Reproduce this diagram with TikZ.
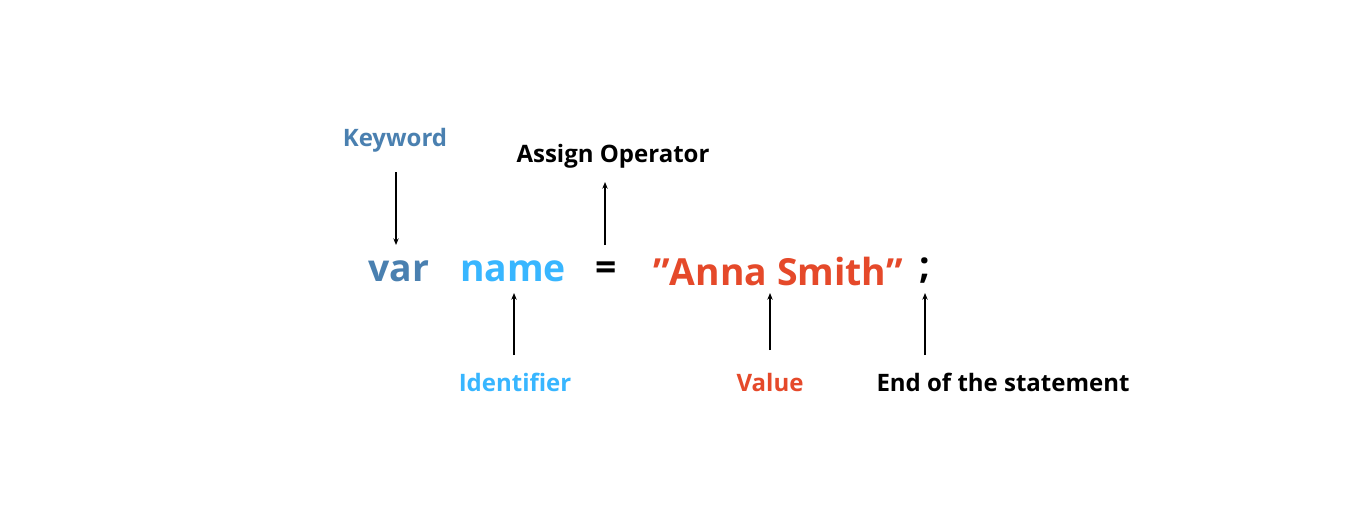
\documentclass[tikz,border=0pt]{standalone}
\usepackage{fontspec}
\setmainfont{Open Sans}
\usetikzlibrary{arrows.meta}
\definecolor{kw}{HTML}{4A80B0}
\definecolor{idc}{HTML}{38B6FF}
\definecolor{val}{HTML}{E5492A}
\tikzset{lab/.style={font=\fontsize{18}{20}\selectfont\bfseries},
code/.style={font=\fontsize{28}{32}\selectfont\bfseries},
arr/.style={-{Stealth[length=5pt,width=4pt]},line width=0.9pt}}
\begin{document}
\begin{tikzpicture}[x=0.75pt,y=-0.75pt]
\useasboundingbox[fill=white] (0,0) rectangle (1366,526);
\node[lab,text=kw] (kwl) at (395,140) {Keyword};
\node[lab] (asl) at (613,156) {Assign Operator};
\node[code,text=kw] (var) at (399,271) {var};
\node[code,text=idc] (name) at (513,271) {name};
\node[code] (eq) at (606,271) {=};
\node[code,text=val] (str) at (778,271) {"Anna Smith"};
\node[code] (semi) at (925,271) {;};
\node[lab,text=idc] (idl) at (515,382) {Identifier};
\node[lab,text=val] (vl) at (770,382) {Value};
\node[lab] (el) at (1003,382) {End of the statement};
\coordinate (k1) at (396,172); \coordinate (k2) at (396,245);
\draw[arr] (k1) -- (k2);
\coordinate (a1) at (605,245); \coordinate (a2) at (605,182);
\draw[arr] (a1) -- (a2);
\coordinate (i1) at (514,355); \coordinate (i2) at (514,293);
\draw[arr] (i1) -- (i2);
\coordinate (v1) at (770,350); \coordinate (v2) at (770,293);
\draw[arr] (v1) -- (v2);
\coordinate (e1) at (925,355); \coordinate (e2) at (925,293);
\draw[arr] (e1) -- (e2);
\end{tikzpicture}
\end{document}
